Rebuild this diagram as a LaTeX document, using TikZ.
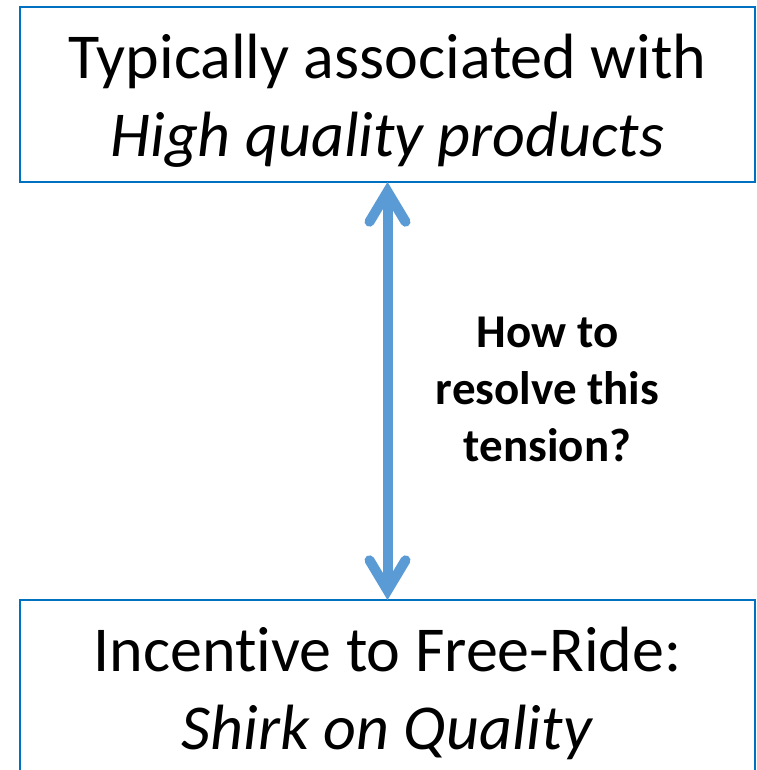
\documentclass[tikz,border=0pt]{standalone}
\usepackage{fontspec}
\setmainfont[Ligatures=CommonOff]{Carlito}
\usetikzlibrary{arrows.meta}

\definecolor{edgeblue}{RGB}{0,112,192}
\definecolor{arrowblue}{RGB}{91,155,213}

\tikzstyle{claim}=[shape=rectangle,
                   draw=edgeblue,
                   line width=2pt,
                   minimum width=735pt,
                   inner sep=0pt,
                   outer sep=0pt]
\tikzstyle{claimtext}=[align=center,
                       inner sep=0pt,
                       font=\fontsize{64}{78}\selectfont]
\tikzstyle{question}=[align=center,
                      inner sep=0pt,
                      font=\fontsize{47}{57}\selectfont\bfseries]

\begin{document}
\begin{tikzpicture}[x=1pt,y=-1pt]
\useasboundingbox (0,0) rectangle (756,770);

% upper statement
\node[claim, minimum height=175pt] (quality) at (387.5,94.5) {};
\node[claimtext] (qualitytext) at (387.5,100.5)
  {Typically associated with\\ \textit{High quality products}};

% lower statement (box runs past the bottom edge)
\node[claim, minimum height=190pt] (shirk) at (387.5,695) {};
\node[claimtext] (shirktext) at (387.5,693)
  {Incentive to Free-Ride:\\ \textit{Shirk on Quality}};

% two-headed arrow between them and its label
\draw[arrowblue, line width=10pt,
      {Straight Barb[line cap=round,line join=miter,length=30pt,width=36pt]}-{Straight Barb[line cap=round,line join=miter,length=30pt,width=36pt]}]
  (quality.south) -- (shirk.north);
\node[question] (tension) at (547.5,389) {How to\\ resolve this\\ tension?};

\end{tikzpicture}
\end{document}
